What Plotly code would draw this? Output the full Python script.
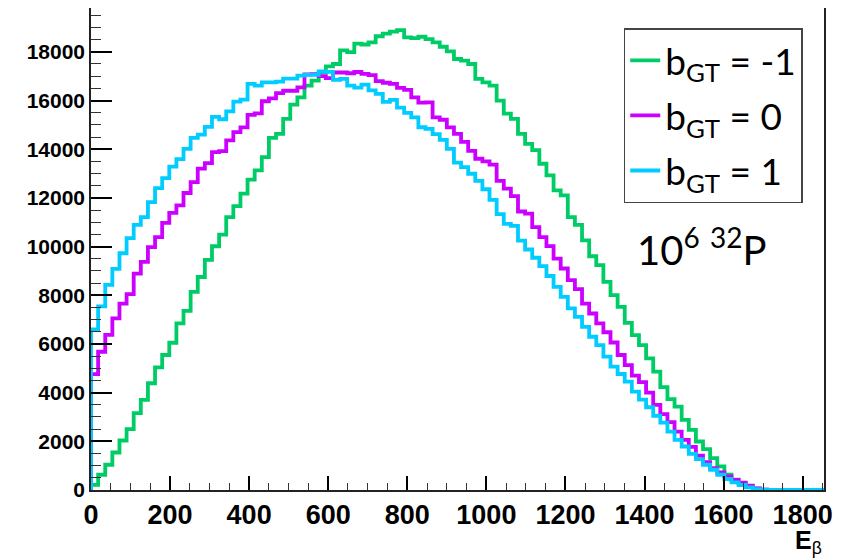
import plotly.graph_objects as go

# Histogram binning (keV)
BIN_WIDTH = 18
X_MAX = 1854

# Bin contents (10^6 events each)
counts_bgt_m1 = [210, 627, 1037, 1541, 2033, 2500, 3156, 3701, 4385, 5041,
                 5545, 6049, 6844, 7361, 8139, 8750, 9450, 10012, 10492, 11213,
                 11664, 12172, 12746, 13127, 13672, 14467, 14631, 15246, 15832, 16131,
                 16611, 16815, 17156, 17400, 17500, 18060, 17990, 18340, 18300, 18386,
                 18640, 18750, 18830, 18893, 18590, 18566, 18619, 18525, 18386, 18209,
                 18016, 17705, 17635, 17500, 16885, 16746, 16611, 15996, 15460, 15246,
                 14631, 14221, 13960, 13402, 12922, 12307, 12100, 11213, 10890, 10258,
                 9602, 9234, 8549, 8004, 7525, 6869, 6365, 5950, 5410, 4861,
                 4230, 3730, 3426, 2881, 2471, 1992, 1680, 1311, 967, 627,
                 422, 258, 148, 60, 10, 0, 0, 0, 0, 0,
                 0, 0, 0]

counts_bgt_0 = [4760, 5680, 6370, 7050, 7660, 8050, 8890, 9370, 9980, 10390,
                10970, 11380, 11690, 12200, 12650, 13200, 13430, 13880, 13920, 14360,
                14700, 14900, 15410, 15475, 15970, 16090, 16300, 16400, 16400, 16540,
                17070, 17080, 17000, 16920, 17150, 17150, 17120, 17170, 17090, 17040,
                16800, 16730, 16680, 16516, 16440, 16130, 15910, 15920, 15310, 15210,
                14900, 14630, 14300, 13930, 13607, 13500, 13370, 12700, 12380, 12070,
                11440, 11350, 10800, 10390, 10020, 9508, 9098, 8620, 8250, 7660,
                7250, 6844, 6480, 6060, 5545, 5130, 4700, 4430, 4000, 3500,
                3120, 2790, 2400, 2060, 1775, 1410, 1140, 902, 718, 560,
                420, 300, 180, 70, 10, 0, 0, 0, 0, 0,
                0, 0, 0]

counts_bgt_p1 = [6598, 7540, 8430, 9080, 9725, 10350, 10890, 11213, 11828, 12400,
                 12810, 13280, 13590, 14016, 14467, 14602, 14915, 15330, 15230, 15550,
                 15950, 16037, 16680, 16611, 16746, 16746, 16775, 16900, 16900, 17020,
                 17050, 17050, 17197, 17180, 16844, 16885, 16611, 16530, 16652, 16420,
                 16270, 15947, 16024, 15710, 15495, 15311, 14902, 14836, 14615, 14385,
                 14016, 13445, 13262, 12992, 12700, 12355, 11920, 11330, 10930, 10850,
                 10240, 9880, 9540, 9200, 8790, 8344, 7934, 7459, 7115, 6705,
                 6295, 5955, 5475, 5066, 4766, 4451, 4041, 3715, 3400, 3050,
                 2770, 2402, 2061, 1787, 1488, 1270, 1037, 832, 627, 451,
                 311, 205, 107, 40, 5, 0, 0, 0, 0, 0,
                 0, 0, 0]

series_names = ["b<sub>GT</sub> = -1", "b<sub>GT</sub> = 0", "b<sub>GT</sub> = 1"]
series_counts = [counts_bgt_m1, counts_bgt_0, counts_bgt_p1]
series_colors = ["#00CC66", "#CC00FF", "#00CCFF"]

x_tick_values = list(range(0, 1801, 200))
y_tick_values = list(range(0, 18001, 2000))

fig = go.Figure()
for name, counts, color in zip(series_names, series_counts, series_colors):
    edges = [i * BIN_WIDTH for i in range(len(counts) + 1)]
    xs = [edges[0]] + edges
    ys = [0] + counts + [counts[-1]]
    fig.add_trace(go.Scatter(
        x=xs, y=ys, mode="lines", name=name, legendgroup=name,
        line=dict(color=color, width=3.8, shape="hv"),
    ))

axis_common = dict(
    showgrid=False, zeroline=False, showline=True, linecolor="#222",
    linewidth=1.5, mirror=True, ticks="inside", tickcolor="black", tickwidth=1.5,
)

# The page body adds an 8px offset, so the figure is sized to fit the window.
fig.update_layout(
    width=848, height=550,
    margin=dict(l=83, r=32, t=0, b=68, autoexpand=False),
    paper_bgcolor="white", plot_bgcolor="white",
    xaxis=dict(
        range=[0, X_MAX], tickmode="array", tickvals=x_tick_values,
        ticktext=[str(v) for v in x_tick_values], ticklen=14,
        minor=dict(ticks="inside", ticklen=7, dtick=50, tickcolor="#333", tickwidth=1.2),
        tickfont=dict(family="Liberation Sans, Arial", size=27, color="black", weight="bold"),
        **axis_common,
    ),
    yaxis=dict(
        range=[0, 19800], tickmode="array", tickvals=y_tick_values,
        ticktext=[str(v) for v in y_tick_values], ticklen=21,
        minor=dict(ticks="inside", ticklen=10, dtick=500, tickcolor="#333", tickwidth=1.2),
        tickfont=dict(family="Liberation Sans, Arial", size=21, color="black", weight="bold"),
        **axis_common,
    ),
    legend=dict(
        x=0.971, y=0.958, xanchor="right", yanchor="top",
        bgcolor="white", bordercolor="#444", borderwidth=1.5,
        font=dict(family="Lato, Liberation Sans", size=37, color="black"),
        tracegroupgap=4, itemwidth=30,
    ),
    annotations=[
        dict(text="10<sup>6</sup> <sup>32</sup>P", xref="paper", yref="paper",
             x=0.742, y=0.505, xanchor="left", yanchor="middle", showarrow=False,
             font=dict(family="Lato, Liberation Sans", size=40, color="black")),
        dict(text="<b>E</b><sub>β</sub>", xref="paper", yref="paper",
             x=1.0, y=-0.108, xanchor="right", yanchor="middle", showarrow=False,
             font=dict(family="Liberation Sans, Arial", size=25, color="black")),
    ],
)

fig.write_html("out.html")
